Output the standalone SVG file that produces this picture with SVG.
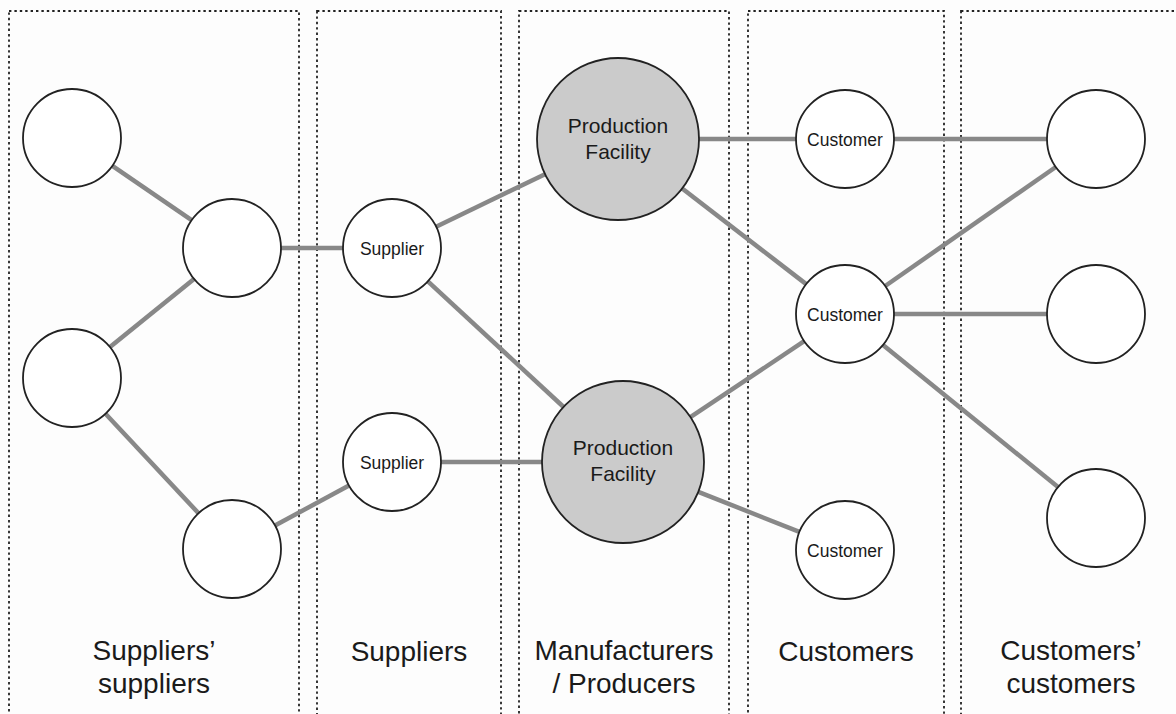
<svg xmlns="http://www.w3.org/2000/svg" width="1176" height="714" viewBox="0 0 1176 714">
  <style>
    .lane { fill: none; stroke: #222; stroke-width: 1.8; stroke-dasharray: 2.4 3; }
    .edge { stroke: #888; stroke-width: 4.5; fill: none; }
    .node { fill: #fff; stroke: #222; stroke-width: 1.8; }
    .plant { fill: #cbcbcb; stroke: #222; stroke-width: 1.8; }
    .lbl { font-family: "Liberation Sans", Arial, Helvetica, sans-serif; fill: #1a1a1a; text-anchor: middle; }
    .small { font-size: 17.5px; }
    .pf { font-size: 21px; }
    .col { font-size: 28px; }
  </style>
  <rect x="0" y="0" width="1176" height="714" fill="#fdfdfd"/>

  <g id="lanes">
    <rect class="lane" x="9" y="11" width="290" height="800"/>
    <rect class="lane" x="317" y="11" width="184" height="800"/>
    <rect class="lane" x="519" y="11" width="210" height="800"/>
    <rect class="lane" x="748" y="11" width="196" height="800"/>
    <rect class="lane" x="961" y="11" width="300" height="800"/>
  </g>

  <g id="connectors">
    <line class="edge" x1="112.4" y1="165.8" x2="191.6" y2="220.2"/>
    <line class="edge" x1="194.0" y1="278.9" x2="110.0" y2="347.1"/>
    <line class="edge" x1="105.5" y1="413.8" x2="198.5" y2="513.2"/>
    <line class="edge" x1="281" y1="248" x2="343" y2="248"/>
    <line class="edge" x1="275.0" y1="525.6" x2="349.0" y2="485.4"/>
    <line class="edge" x1="436.1" y1="226.7" x2="545.0" y2="174.2"/>
    <line class="edge" x1="427.9" y1="281.3" x2="563.6" y2="407.0"/>
    <line class="edge" x1="441" y1="462" x2="542" y2="462"/>
    <line class="edge" x1="699" y1="139" x2="796" y2="139"/>
    <line class="edge" x1="682.2" y1="188.5" x2="806.2" y2="284.1"/>
    <line class="edge" x1="690.4" y1="417.1" x2="804.2" y2="341.2"/>
    <line class="edge" x1="698.3" y1="491.8" x2="799.4" y2="531.9"/>
    <line class="edge" x1="894" y1="139" x2="1047" y2="139"/>
    <line class="edge" x1="885.2" y1="286.0" x2="1055.8" y2="167.0"/>
    <line class="edge" x1="894" y1="314" x2="1047" y2="314"/>
    <line class="edge" x1="883.0" y1="344.9" x2="1058.0" y2="487.1"/>
  </g>

  <g id="ss1"><circle class="node" cx="72" cy="138" r="49"/></g>
  <g id="ss2"><circle class="node" cx="72" cy="378" r="49"/></g>
  <g id="ss3"><circle class="node" cx="232" cy="248" r="49"/></g>
  <g id="ss4"><circle class="node" cx="232" cy="549" r="49"/></g>

  <g id="supplier1">
    <circle class="node" cx="392" cy="248" r="49"/>
    <text class="lbl small" x="392" y="254.5">Supplier</text>
  </g>
  <g id="supplier2">
    <circle class="node" cx="392" cy="462" r="49"/>
    <text class="lbl small" x="392" y="468.5">Supplier</text>
  </g>

  <g id="facility1">
    <circle class="plant" cx="618" cy="139" r="81"/>
    <text class="lbl pf" x="618" y="133">Production</text>
    <text class="lbl pf" x="618" y="159">Facility</text>
  </g>
  <g id="facility2">
    <circle class="plant" cx="623" cy="462" r="81"/>
    <text class="lbl pf" x="623" y="455">Production</text>
    <text class="lbl pf" x="623" y="481">Facility</text>
  </g>

  <g id="customer1">
    <circle class="node" cx="845" cy="139" r="49"/>
    <text class="lbl small" x="845" y="145.5">Customer</text>
  </g>
  <g id="customer2">
    <circle class="node" cx="845" cy="314" r="49"/>
    <text class="lbl small" x="845" y="320.5">Customer</text>
  </g>
  <g id="customer3">
    <circle class="node" cx="845" cy="550" r="49"/>
    <text class="lbl small" x="845" y="556.5">Customer</text>
  </g>

  <g id="cc1"><circle class="node" cx="1096" cy="139" r="49"/></g>
  <g id="cc2"><circle class="node" cx="1096" cy="314" r="49"/></g>
  <g id="cc3"><circle class="node" cx="1096" cy="518" r="49"/></g>

  <g id="column-labels">
    <text class="lbl col" x="154" y="660">Suppliers’</text>
    <text class="lbl col" x="154" y="693">suppliers</text>
    <text class="lbl col" x="409" y="661">Suppliers</text>
    <text class="lbl col" x="624" y="660">Manufacturers</text>
    <text class="lbl col" x="624" y="693">/ Producers</text>
    <text class="lbl col" x="846" y="661">Customers</text>
    <text class="lbl col" x="1071" y="660">Customers’</text>
    <text class="lbl col" x="1071" y="693">customers</text>
  </g>
</svg>
